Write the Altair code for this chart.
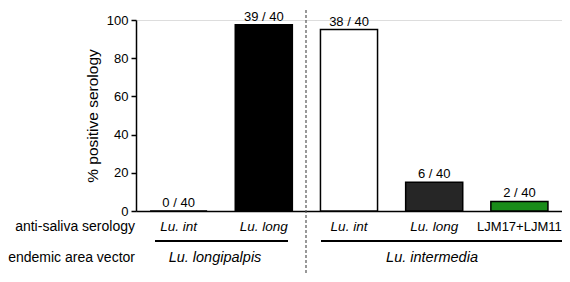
import altair as alt
import pandas as pd

keys = ["c1", "c2", "c3", "c4", "c5"]
categories = ["Lu. int", "Lu. long", "Lu. int", "Lu. long", "LJM17+LJM11"]
italic = [True, True, True, True, False]
groups = ["Lu. longipalpis", "Lu. longipalpis", "Lu. intermedia", "Lu. intermedia", "Lu. intermedia"]
positives = [0, 39, 38, 6, 2]
totals = [40, 40, 40, 40, 40]
fills = ["#ffffff", "#000000", "#ffffff", "#262626", "#1a8c1a"]
y_ticks = [0, 20, 40, 60, 80, 100]

df = pd.DataFrame({
    "key": keys,
    "cat": categories,
    "italic": italic,
    "group": groups,
    "pos": positives,
    "tot": totals,
    "fill": fills,
})
df["pct"] = df["pos"] / df["tot"] * 100
df["label"] = df["pos"].astype(str) + " / " + df["tot"].astype(str)

FONT = "Liberation Sans"
W, H = 426, 191

xs = alt.Scale(paddingInner=0.33, paddingOuter=0.165)
ys = alt.Scale(domain=[0, 100], nice=False)
x_axis = alt.Axis(labels=False, ticks=False, title=None, domainColor="black",
                  domainWidth=1.5, grid=False)
y_axis = alt.Axis(values=y_ticks, title="% positive serology",
                  grid=False, domainColor="black", domainWidth=1.5,
                  tickColor="black", tickWidth=1.5, tickSize=5, labelPadding=3,
                  labelOverlap=False, labelFont=FONT, labelFontSize=13,
                  labelColor="black", titleFont=FONT, titleFontSize=15.5,
                  titleFontWeight="normal", titleColor="black", titlePadding=6)


def X():
    return alt.X("key:N", sort=keys, scale=xs, axis=x_axis)


def Y():
    return alt.Y("pct:Q", scale=ys, axis=y_axis)


base = alt.Chart(df)

bars = base.mark_bar(stroke="black", strokeWidth=1.5).encode(
    x=X(), y=Y(), fill=alt.Fill("fill:N", scale=None))

vals = base.mark_text(baseline="bottom", dy=-1, font=FONT, fontSize=13, color="black").encode(
    x=X(), y=Y(), text="label:N")

cat_it = base.transform_filter("datum.italic").mark_text(
    baseline="middle", font=FONT, fontSize=13.5, fontStyle="italic", color="black").encode(
    x=X(), y=alt.value(207), text="cat:N")
cat_n = base.transform_filter("!datum.italic").mark_text(
    baseline="middle", font=FONT, fontSize=13, color="black").encode(
    x=X(), y=alt.value(207), text="cat:N")

rows1 = alt.Chart(pd.DataFrame({"t": ["anti-saliva serology"]})).mark_text(
    align="right", baseline="middle", font=FONT, fontSize=14, color="black").encode(
    x=alt.value(-1), y=alt.value(207), text="t:N")
rows2 = alt.Chart(pd.DataFrame({"t": ["endemic area vector"]})).mark_text(
    align="right", baseline="middle", font=FONT, fontSize=14, color="black").encode(
    x=alt.value(-1), y=alt.value(238), text="t:N")

g1 = alt.Chart(pd.DataFrame({"g": ["Lu. longipalpis"]}))
g2 = alt.Chart(pd.DataFrame({"g": ["Lu. intermedia"]}))
line1 = g1.mark_rule(color="black", strokeWidth=2).encode(
    x=alt.value(19), x2=alt.value(152), y=alt.value(221))
line2 = g2.mark_rule(color="black", strokeWidth=2).encode(
    x=alt.value(185), x2=alt.value(440), y=alt.value(221))
text1 = g1.mark_text(baseline="middle", font=FONT, fontSize=14.5, fontStyle="italic",
                     color="black").encode(x=alt.value(79), y=alt.value(238), text="g:N")
text2 = g2.mark_text(baseline="middle", font=FONT, fontSize=14.5, fontStyle="italic",
                     color="black").encode(x=alt.value(296), y=alt.value(238), text="g:N")

divider = alt.Chart(pd.DataFrame({"d": [0]})).mark_rule(
    color="#555555", strokeWidth=1.2, strokeDash=[3, 2]).encode(
    x=alt.value(170), y=alt.value(-20), y2=alt.value(280))

chart = alt.layer(bars, vals, cat_it, cat_n, rows1, rows2, line1, line2, text1, text2,
                  divider).properties(
    width=W, height=H,
    autosize=alt.AutoSizeParams(type="none"),
    padding={"left": 128, "top": 12, "right": 0, "bottom": 62},
).configure_view(stroke=None).configure(background="white")

chart.save("out.html", embed_options={"renderer": "svg", "actions": False})
